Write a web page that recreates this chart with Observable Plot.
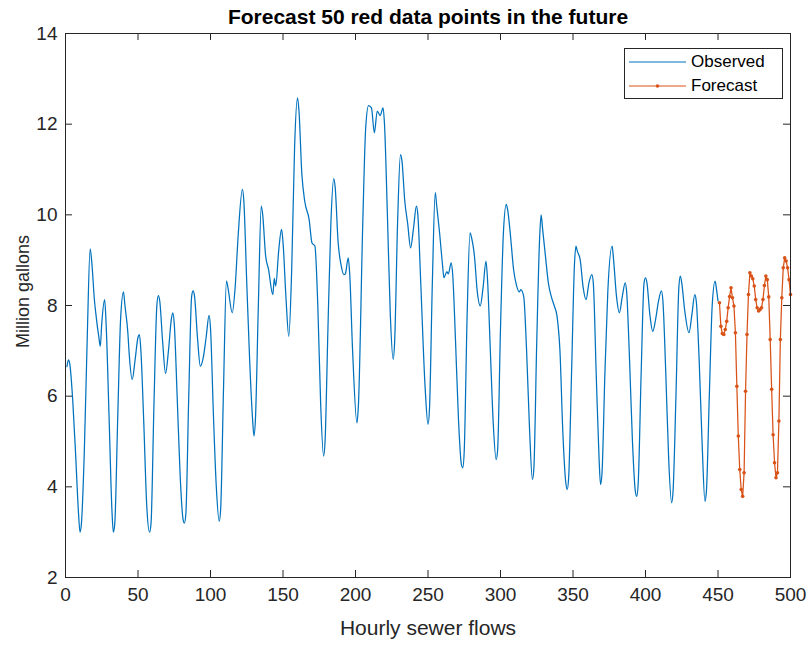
<!DOCTYPE html>
<html>
<head>
<meta charset="utf-8">
<script src="https://cdn.jsdelivr.net/npm/d3@7"></script>
<script src="https://cdn.jsdelivr.net/npm/@observablehq/plot@0.6"></script>
<style>
  body { margin: 0; background: #fff; font-family: "Liberation Sans", Arial, sans-serif; }
  #wrap { position: relative; width: 809px; height: 645px; }
  #legend { position: absolute; left: 624px; top: 48px; width: 157px; height: 49px;
            border: 1px solid #262626; background: #fff; box-sizing: content-box; }
  .row { position: absolute; left: 4px; height: 20px; display: flex; align-items: center;
         font-size: 17px; color: #000; }
  .row svg { margin-right: 5px; }
</style>
</head>
<body>
<div id="wrap">
  <div id="chart"></div>
  <div id="legend">
    <div class="row" style="top:3px"><svg width="57" height="20"><line x1="0" x2="57" y1="10" y2="10" stroke="#0072BD" stroke-width="1.2"/></svg>Observed</div>
    <div class="row" style="top:27px"><svg width="57" height="20"><line x1="0" x2="57" y1="10" y2="10" stroke="#D95319" stroke-width="1.2"/><circle cx="28.5" cy="10" r="1.8" fill="#D95319"/></svg>Forecast</div>
  </div>
</div>
<script>
// Observed hourly flows (hour, million gallons)
const obsHours = [1,2,3,5,7,9,10,11,13,15,17,18,20,21,23,24,25,27,28,30,32,33,34,36,38,40,41,43,44,46,48,50,51,52,54,56,58,59,61,63,64,65,67,69,71,73,74,75,77,79,81,82,83,85,87,88,89,91,93,95,97,99,100,102,104,106,107,109,111,112,115,117,119,122,123,125,127,129,130,131,133,135,136,138,140,143,144,145,147,149,150,152,154,156,158,160,161,163,165,168,170,172,174,176,178,179,181,183,185,186,188,190,192,193,195,196,198,201,202,205,207,209,211,213,215,217,219,220,222,224,226,227,229,231,232,234,236,238,240,242,243,245,248,250,251,253,255,256,258,260,261,263,264,266,267,269,271,273,274,275,277,279,280,282,284,286,288,290,291,293,295,297,298,300,302,304,305,307,309,311,313,314,316,318,320,322,323,325,327,328,329,331,333,335,337,339,341,343,345,346,347,349,351,352,353,355,357,359,361,363,364,366,368,369,370,372,374,377,378,380,382,384,386,387,389,391,393,394,395,397,399,400,401,403,405,407,409,411,412,414,416,418,419,421,423,424,425,427,430,432,434,435,437,439,441,442,444,446,448,449,450];
const obsValues = [6.65,6.8,6.7,5.9,4.7,3.4,3.0,3.2,4.8,7.3,9.25,9.0,8.1,7.8,7.3,7.1,7.6,8.13,7.6,5.6,3.5,3.0,3.2,5.5,7.7,8.3,8.0,7.4,6.9,6.37,6.8,7.3,7.36,7.0,5.4,3.6,3.0,3.2,5.8,8.0,8.22,8.1,7.2,6.5,7.0,7.7,7.84,7.6,6.0,4.3,3.3,3.2,3.4,6.0,8.2,8.32,8.2,7.3,6.66,6.85,7.3,7.78,7.5,5.6,4.0,3.24,3.5,6.2,8.54,8.4,7.84,8.4,9.5,10.56,10.3,8.5,6.8,5.5,5.12,5.5,8.0,10.19,10.0,9.1,8.8,8.24,8.6,8.43,9.2,9.68,9.4,8.2,7.32,8.8,11.5,12.58,12.3,10.9,10.3,9.9,9.38,9.31,8.0,5.8,4.68,5.0,7.5,9.8,10.8,10.6,9.4,8.9,8.68,8.7,9.05,8.7,7.0,5.41,5.8,9.8,11.9,12.41,12.36,11.81,12.29,12.19,12.36,12.0,10.0,7.8,6.81,7.2,9.8,11.33,11.2,10.3,9.8,9.27,9.7,10.19,10.0,8.5,6.2,5.38,5.7,8.5,10.49,10.2,9.6,8.9,8.61,8.75,8.7,8.94,8.7,7.2,5.5,4.5,4.42,4.8,7.8,9.6,9.5,9.1,8.3,7.99,8.4,8.98,8.6,7.0,5.4,4.6,4.8,7.5,9.6,10.23,10.1,9.5,8.8,8.45,8.3,8.35,8.2,7.0,5.3,4.16,4.4,7.2,9.5,10.0,9.7,9.09,8.5,8.2,8.0,7.76,7.0,5.2,4.1,3.94,4.2,6.5,8.9,9.31,9.2,9.0,8.4,8.13,8.5,8.68,8.5,6.5,4.6,4.05,4.3,6.5,8.3,9.31,9.0,8.2,7.84,8.2,8.5,8.3,6.8,5.0,3.9,3.79,4.1,6.5,8.5,8.61,8.5,7.8,7.43,7.7,8.1,8.32,8.1,6.5,4.6,3.65,3.9,6.0,8.4,8.65,8.5,7.9,7.4,7.8,8.24,8.1,6.8,5.0,3.68,3.9,6.0,8.0,8.54,8.35,8.1];

// Forecast: 50 points, hours 451..500
const fcHours = [451,452,453,454,455,456,457,458,459,460,461,462,463,464,465,466,467,468,469,470,471,472,473,474,475,476,477,478,479,480,481,482,483,484,485,486,487,488,489,490,491,492,493,494,495,496,497,498,499,500];
const fcValues = [8.06,7.54,7.38,7.36,7.47,7.65,7.95,8.2,8.39,8.17,7.99,7.4,6.22,5.12,4.38,3.94,3.79,4.31,6.11,7.36,8.24,8.72,8.65,8.59,8.43,8.13,7.95,7.88,7.91,7.95,8.13,8.44,8.65,8.57,8.19,7.25,6.15,5.15,4.53,4.2,4.31,5.45,7.25,8.17,8.83,9.05,8.98,8.83,8.57,8.24];

const xTicks = [0,50,100,150,200,250,300,350,400,450,500];
const yTicks = [2,4,6,8,10,12,14];
const titleText = "Forecast 50 red data points in the future";
const xLabel = "Hourly sewer flows";
const yLabel = "Million gallons";

const obs = obsHours.map((t, i) => ({t, v: obsValues[i]}));
const fc = fcHours.map((t, i) => ({t, v: fcValues[i]}));

const W = 809, H = 645, mL = 65, mR = 19, mT = 33, mB = 68;
const pw = W - mL - mR, ph = H - mT - mB;
const axisColor = "#262626";
const tickLen = 7;

const chart = Plot.plot({
  width: W, height: H,
  marginLeft: mL, marginRight: mR, marginTop: mT, marginBottom: mB,
  style: {fontFamily: "'Liberation Sans', Arial, sans-serif", background: "#fff", color: axisColor},
  x: {domain: [0, 500], label: null},
  y: {domain: [2, 14], label: null},
  marks: [
    Plot.axisX({ticks: xTicks, tickSize: 0, tickPadding: 10, fontSize: 19, label: null}),
    Plot.axisY({ticks: yTicks, tickSize: 0, tickPadding: 8, fontSize: 19, label: null}),
    Plot.tickX(xTicks, {x: d => d, insetTop: ph - tickLen, stroke: axisColor}),
    Plot.tickX(xTicks, {x: d => d, insetBottom: ph - tickLen, stroke: axisColor}),
    Plot.tickY(yTicks, {y: d => d, insetRight: pw - tickLen, stroke: axisColor}),
    Plot.tickY(yTicks, {y: d => d, insetLeft: pw - tickLen, stroke: axisColor}),
    Plot.line(obs, {x: "t", y: "v", stroke: "#0072BD", strokeWidth: 1.25, curve: "monotone-x"}),
    Plot.line(fc, {x: "t", y: "v", stroke: "#D95319", strokeWidth: 1.25}),
    Plot.dot(fc, {x: "t", y: "v", r: 1.8, fill: "#D95319", stroke: "none"}),
    Plot.frame({stroke: axisColor, strokeWidth: 1}),
    Plot.text([titleText], {frameAnchor: "top", lineAnchor: "middle", dy: -16, fontSize: 21, fontWeight: "bold", fill: "#000"}),
    Plot.text([xLabel], {frameAnchor: "bottom", lineAnchor: "middle", dy: 51, fontSize: 21, fill: axisColor}),
    Plot.text([yLabel], {frameAnchor: "left", textAnchor: "middle", lineAnchor: "middle", dx: -42, dy: -14, rotate: -90, fontSize: 18, fill: axisColor})
  ]
});
document.getElementById("chart").appendChild(chart);
</script>
</body>
</html>
